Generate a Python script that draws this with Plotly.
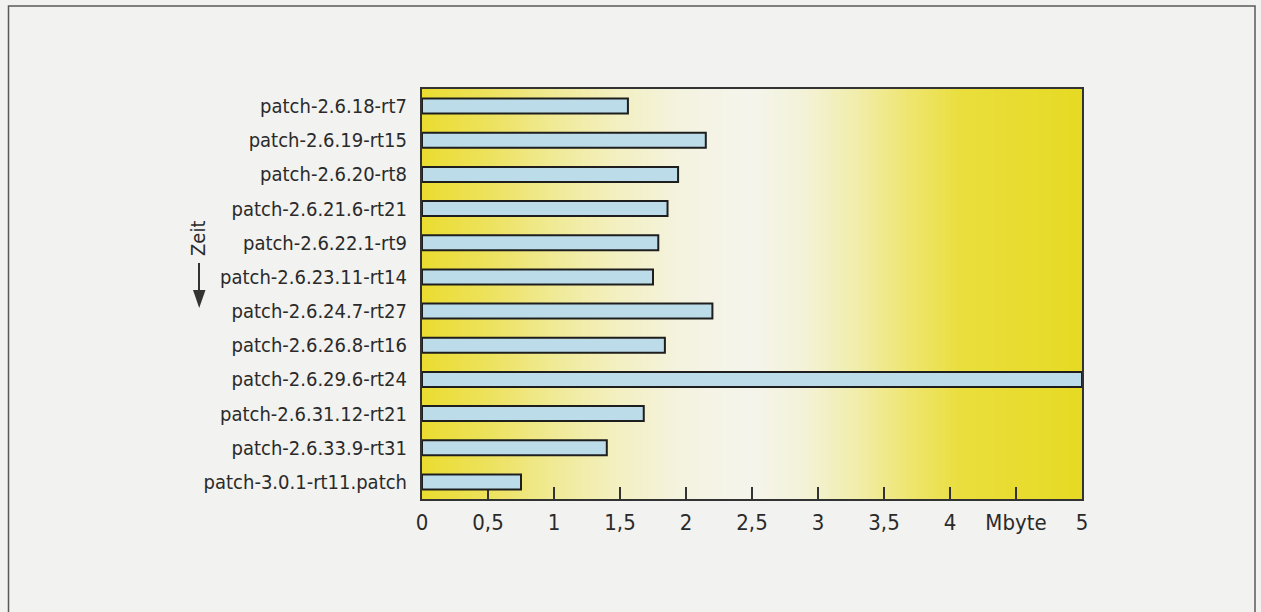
import plotly.graph_objects as go

# Patch sizes of the PREEMPT_RT series, oldest at the top
patches = [
    "patch-2.6.18-rt7",
    "patch-2.6.19-rt15",
    "patch-2.6.20-rt8",
    "patch-2.6.21.6-rt21",
    "patch-2.6.22.1-rt9",
    "patch-2.6.23.11-rt14",
    "patch-2.6.24.7-rt27",
    "patch-2.6.26.8-rt16",
    "patch-2.6.29.6-rt24",
    "patch-2.6.31.12-rt21",
    "patch-2.6.33.9-rt31",
    "patch-3.0.1-rt11.patch",
]
size_mbyte = [1.56, 2.15, 1.94, 1.86, 1.79, 1.75, 2.20, 1.84, 5.0, 1.68, 1.40, 0.75]

tick_values = [0, 0.5, 1, 1.5, 2, 2.5, 3, 3.5, 4, 4.5, 5]
tick_labels = ["0", "0,5", "1", "1,5", "2", "2,5", "3", "3,5", "4", "Mbyte", "5"]

# Background colour bands across the value axis (yellow -> white -> yellow)
grad_pos = [0.0, 0.5, 1.0, 1.5, 2.0, 2.5, 2.9, 3.3, 3.7, 4.1, 5.0]
grad_rgb = [
    (234, 220, 48), (237, 226, 92), (240, 234, 150), (243, 240, 195),
    (244, 243, 225), (244, 244, 236), (243, 242, 215), (241, 237, 170),
    (238, 229, 110), (234, 222, 60), (230, 218, 36),
]

W, H = 1261, 612
L, R, T, B = 422, 1082, 89, 499
FONT = "Liberation Sans Narrow, DejaVu Sans Condensed, Arial Narrow, sans-serif"
INK = "#2a2a2a"
LBL = 20


def lerp_color(v):
    for i in range(len(grad_pos) - 1):
        a, b = grad_pos[i], grad_pos[i + 1]
        if a <= v <= b:
            t = (v - a) / (b - a)
            c0, c1 = grad_rgb[i], grad_rgb[i + 1]
            return "rgb(%d,%d,%d)" % tuple(round(c0[k] + (c1[k] - c0[k]) * t) for k in range(3))
    return "rgb(%d,%d,%d)" % grad_rgb[-1]


def px(x):
    return (x - L) / (R - L)


def py(y):
    return (B - y) / (B - T)


shapes = []
n_strips = 150
for i in range(n_strips):
    x0 = 5.0 * i / n_strips
    x1 = 5.0 * (i + 1) / n_strips
    shapes.append(dict(
        type="rect", xref="x", yref="paper", x0=x0, x1=x1 + 0.01, y0=0, y1=1,
        fillcolor=lerp_color((x0 + x1) / 2), line=dict(width=0), layer="below",
    ))

# Outer page frame
shapes.append(dict(
    type="rect", xref="paper", yref="paper",
    x0=px(8.5), x1=px(1255), y0=py(6), y1=py(640),
    line=dict(color="#5a5a5a", width=1.5), fillcolor="rgba(0,0,0,0)",
))

# "Zeit" arrow: shaft and head
shapes.append(dict(
    type="line", xref="paper", yref="paper",
    x0=px(199), x1=px(199), y0=py(263), y1=py(292),
    line=dict(color="#333333", width=2),
))
shapes.append(dict(
    type="path", xref="paper", yref="paper",
    path="M %f,%f L %f,%f L %f,%f Z" % (px(193), py(290), px(205.5), py(290), px(199.2), py(308)),
    fillcolor="#333333", line=dict(width=0),
))

fig = go.Figure(go.Bar(
    y=patches,
    x=size_mbyte,
    orientation="h",
    marker=dict(color="#bcdcea", line=dict(color="#1e1e1e", width=2)),
    hoverinfo="x+y",
))

fig.update_layout(
    width=W, height=H,
    margin=dict(l=L, r=W - R, t=T, b=H - B, pad=0),
    paper_bgcolor="#f2f2f0",
    plot_bgcolor="rgba(0,0,0,0)",
    bargap=0.56,
    showlegend=False,
    shapes=shapes,
    font=dict(family=FONT, color=INK),
    annotations=[dict(
        text="Zeit", xref="paper", yref="paper", x=px(198), y=py(239),
        textangle=-90, showarrow=False, font=dict(size=LBL, family=FONT, color=INK),
        xanchor="center", yanchor="middle",
    )],
)

fig.update_xaxes(
    range=[0, 5], tickvals=tick_values, ticktext=tick_labels,
    ticks="inside", ticklen=12, tickwidth=1.5, tickcolor="#333333",
    showline=True, mirror=True, linecolor="#333333", linewidth=2,
    showgrid=False, zeroline=False, layer="below traces",
    tickfont=dict(size=22, family=FONT, color=INK),
    ticklabelstandoff=3,
)
fig.update_yaxes(
    categoryorder="array", categoryarray=patches, autorange="reversed",
    showline=True, mirror=True, linecolor="#333333", linewidth=2,
    showgrid=False, zeroline=False, ticks="",
    tickfont=dict(size=LBL, family=FONT, color=INK),
    ticklabelstandoff=9,
)

fig.write_html("out.html")
